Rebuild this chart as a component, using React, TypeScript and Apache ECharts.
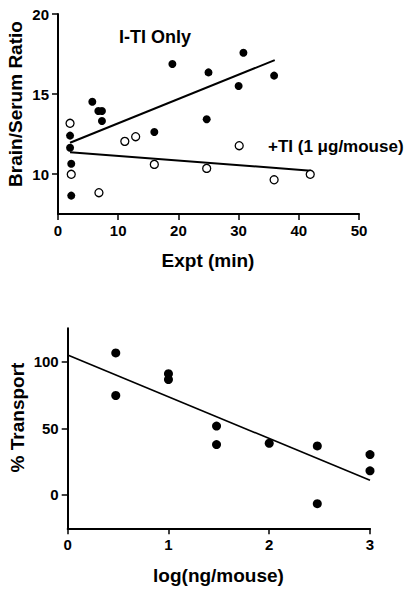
import React, { useEffect, useRef } from 'react';
import * as echarts from 'echarts';

// Top panel: I-TI only (filled) and +TI (open)
const iTiOnlyTime = [2, 2, 2.2, 2.2, 5.7, 6.7, 7.3, 7.3, 16, 19, 24.7, 25, 30, 30.8, 35.9];
const iTiOnlyRatio = [12.4, 11.64, 10.64, 8.65, 14.52, 13.94, 13.94, 13.31, 12.63, 16.88, 13.42, 16.35, 15.5, 17.58, 16.15];
const plusTiTime = [2, 2.2, 6.8, 11.1, 12.9, 16, 24.7, 30.1, 35.9, 41.9];
const plusTiRatio = [13.17, 9.98, 8.83, 12.04, 12.33, 10.6, 10.35, 11.77, 9.64, 9.98];
const iTiFitX = [2, 36];
const iTiFitY = [11.95, 17.12];
const plusTiFitX = [2, 42];
const plusTiFitY = [11.36, 10.21];
const topXTicks = [0, 10, 20, 30, 40, 50];
const topYTicks = [10, 15, 20];

// Bottom panel: % transport vs log dose
const logDose = [0.477, 0.477, 1, 1, 1.477, 1.477, 2, 2.477, 2.477, 3, 3];
const transport = [106.5, 74.6, 91, 86.6, 51.7, 37.8, 38.8, 36.8, -6.5, 30.3, 18.1];
const transportFitX = [0, 3];
const transportFitY = [105, 11];
const bottomYTicks = [0, 50, 100];

const FONT = '"Liberation Sans", Arial, Helvetica, sans-serif';

const zip = (xs: number[], ys: number[]) => xs.map((x, i) => [x, ys[i]]);

export default function App() {
  const ref = useRef<HTMLDivElement>(null);
  useEffect(() => {
    if (!ref.current) return;
    const chart = echarts.init(ref.current, undefined, { renderer: 'svg' });
    const axisLabel = { color: '#000', fontFamily: FONT, fontWeight: 'bold', fontSize: 15, margin: 9 };
    const axisLine = { onZero: false, lineStyle: { color: '#000', width: 2 } };
    const axisTick = { length: 6, lineStyle: { color: '#000', width: 1.5 } };
    const titleStyle = (text: string, x: number, y: number, rot: number) => ({
      type: 'text',
      x,
      y,
      rotation: rot,
      style: {
        text,
        fill: '#000',
        font: `bold 19px ${FONT}`,
        textAlign: 'center',
        textVerticalAlign: 'middle',
        align: 'center',
        verticalAlign: 'middle',
      },
    });
    chart.setOption({
      animation: false,
      backgroundColor: '#fff',
      grid: [
        { left: 58, top: 14, width: 301, height: 200 },
        { left: 67.7, top: 328.3, width: 302.3, height: 200 },
      ],
      xAxis: [
        {
          type: 'value', gridIndex: 0, min: 0, max: 50, interval: 10,
          axisLine, axisTick, axisLabel, splitLine: { show: false },
        },
        {
          type: 'value', gridIndex: 1, min: 0, max: 3, interval: 1,
          axisLine, axisTick, axisLabel, splitLine: { show: false },
        },
      ],
      yAxis: [
        {
          type: 'value', gridIndex: 0, min: 7.5, max: 20,
          axisLine,
          axisTick: { ...axisTick, customValues: topYTicks },
          axisLabel: { ...axisLabel, customValues: topYTicks },
          splitLine: { show: false },
        },
        {
          type: 'value', gridIndex: 1, min: -25, max: 125,
          axisLine,
          axisTick: { ...axisTick, customValues: bottomYTicks },
          axisLabel: { ...axisLabel, customValues: bottomYTicks },
          splitLine: { show: false },
        },
      ],
      graphic: [
        titleStyle('Brain/Serum Ratio', 15, 104, Math.PI / 2),
        titleStyle('Expt (min)', 208, 260, 0),
        titleStyle('% Transport', 17, 417.5, Math.PI / 2),
        titleStyle('log(ng/mouse)', 218.5, 575, 0),
        {
          type: 'text', x: 119, y: 37,
          style: {
            text: 'I-TI Only', fill: '#000', font: `bold 18px ${FONT}`,
            textAlign: 'left', textVerticalAlign: 'middle', align: 'left', verticalAlign: 'middle',
          },
        },
        {
          type: 'text', x: 268, y: 146,
          style: {
            text: '+TI (1 μg/mouse)', fill: '#000', font: `bold 17px ${FONT}`,
            textAlign: 'left', textVerticalAlign: 'middle', align: 'left', verticalAlign: 'middle',
          },
        },
      ],
      series: [
        {
          name: 'I-TI fit', type: 'line', xAxisIndex: 0, yAxisIndex: 0,
          data: zip(iTiFitX, iTiFitY), symbol: 'none', z: 1,
          lineStyle: { color: '#000', width: 2 },
        },
        {
          name: '+TI fit', type: 'line', xAxisIndex: 0, yAxisIndex: 0,
          data: zip(plusTiFitX, plusTiFitY), symbol: 'none', z: 1,
          lineStyle: { color: '#000', width: 2 },
        },
        {
          name: 'I-TI Only', type: 'scatter', xAxisIndex: 0, yAxisIndex: 0,
          data: zip(iTiOnlyTime, iTiOnlyRatio), symbol: 'circle', symbolSize: 8, z: 3,
          itemStyle: { color: '#000', opacity: 1 },
        },
        {
          name: '+TI', type: 'scatter', xAxisIndex: 0, yAxisIndex: 0,
          data: zip(plusTiTime, plusTiRatio), symbol: 'circle', symbolSize: 8, z: 3,
          itemStyle: { color: '#fff', borderColor: '#000', borderWidth: 1.3, opacity: 1 },
        },
        {
          name: 'Transport fit', type: 'line', xAxisIndex: 1, yAxisIndex: 1,
          data: zip(transportFitX, transportFitY), symbol: 'none', z: 1,
          lineStyle: { color: '#000', width: 1.6 },
        },
        {
          name: '% Transport', type: 'scatter', xAxisIndex: 1, yAxisIndex: 1,
          data: zip(logDose, transport), symbol: 'circle', symbolSize: 9, z: 3,
          itemStyle: { color: '#000', opacity: 1 },
        },
      ],
    });
    return () => chart.dispose();
  }, []);
  return (
    <div
      ref={ref}
      style={{ position: 'fixed', left: 0, top: 0, width: 404, height: 592, background: '#fff' }}
    />
  );
}
